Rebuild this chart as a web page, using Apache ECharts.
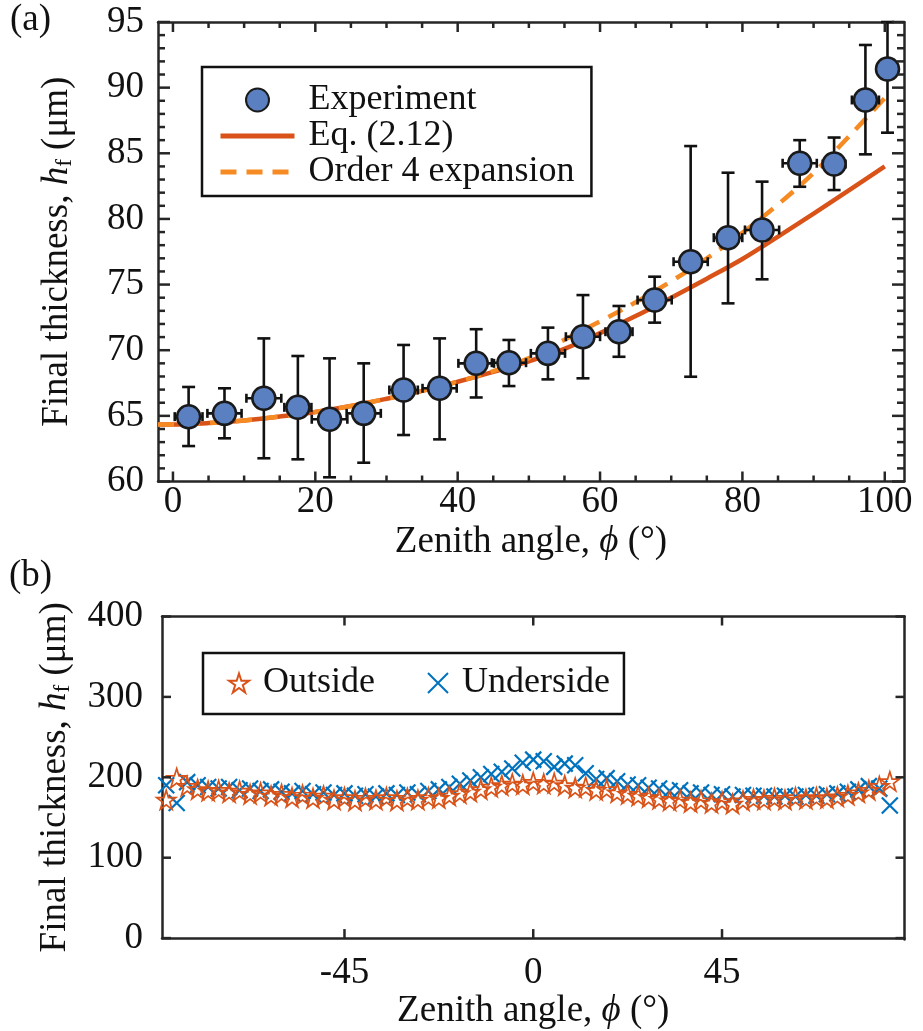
<!DOCTYPE html>
<html>
<head>
<meta charset="utf-8">
<script src="https://cdn.jsdelivr.net/npm/echarts@6/dist/echarts.min.js"></script>
<style>html,body{margin:0;padding:0;background:#fff}#c{width:923px;height:1031px}</style>
</head>
<body>
<div id="c"></div>
<script>
// ---------- Panel (a) data ----------
const expX    = [2.2, 7.24, 12.77, 17.55, 22.0, 26.8, 32.4, 37.46, 42.6, 47.2, 52.68, 57.6, 62.66, 67.67, 72.73, 77.98, 82.76, 88.05, 92.88, 97.28, 100.38];
const expY    = [64.94, 65.19, 66.34, 65.65, 64.74, 65.19, 66.97, 67.1, 69.0, 69.05, 69.76, 71.03, 71.41, 73.82, 76.74, 78.57, 79.16, 84.24, 84.18, 89.06, 91.42];
const expYlo  = [62.7, 63.29, 61.77, 61.69, 60.32, 61.43, 63.54, 63.21, 66.4, 67.27, 67.78, 67.86, 69.5, 72.1, 67.98, 73.57, 75.4, 82.45, 82.2, 84.92, 86.57];
const expYhi  = [67.2, 67.1, 70.9, 69.56, 69.38, 69.0, 70.4, 70.9, 71.6, 70.78, 71.72, 74.2, 73.37, 75.6, 85.55, 83.52, 82.84, 86.0, 86.2, 93.25, 95.0];
const expXerr = [1.95, 2.4, 2.45, 1.9, 2.5, 2.4, 2.0, 2.4, 2.5, 2.4, 2.4, 2.4, 1.9, 2.4, 2.4, 2.0, 2.4, 2.4, 1.6, 1.9, 0];

const curveX = [-2.1, 0, 5, 10, 15, 20, 25, 30, 35, 40, 45, 50, 55, 60, 65, 70, 75, 80, 85, 90, 95, 100];
const eqY    = [64.35, 64.35, 64.45, 64.65, 64.95, 65.3, 65.75, 66.3, 66.9, 67.6, 68.35, 69.15, 70.1, 71.3, 72.6, 74.0, 75.45, 76.95, 78.65, 80.4, 82.2, 84.0];
const ordY   = [64.35, 64.35, 64.45, 64.65, 64.95, 65.3, 65.75, 66.3, 66.9, 67.6, 68.4, 69.4, 70.8, 72.2, 73.65, 75.25, 77.0, 78.95, 81.1, 83.5, 86.3, 89.2];

const xTicksA = [0, 20, 40, 60, 80, 100];
const xMinorA = [5, 10, 15, 25, 30, 35, 45, 50, 55, 65, 70, 75, 85, 90, 95];
const yTicksA = [60, 65, 70, 75, 80, 85, 90, 95];
const yMinorA = [61, 62, 63, 64, 66, 67, 68, 69, 71, 72, 73, 74, 76, 77, 78, 79, 81, 82, 83, 84, 86, 87, 88, 89, 91, 92, 93, 94];

// ---------- Panel (b) data ----------
const phiB = [-87.5, -85, -82.5, -80, -77.5, -75, -72.5, -70, -67.5, -65, -62.5, -60, -57.5, -55, -52.5, -50, -47.5, -45, -42.5, -40, -37.5, -35, -32.5, -30, -27.5, -25, -22.5, -20, -17.5, -15, -12.5, -10, -7.5, -5, -2.5, 0, 2.5, 5, 7.5, 10, 12.5, 15, 17.5, 20, 22.5, 25, 27.5, 30, 32.5, 35, 37.5, 40, 42.5, 45, 47.5, 50, 52.5, 55, 57.5, 60, 62.5, 65, 67.5, 70, 72.5, 75, 77.5, 80, 82.5, 85];
const outsideB = [172, 199, 189, 185, 183, 184, 181, 183, 179, 181, 177, 179, 175, 178, 174, 177, 172, 175, 171, 174, 172, 175, 171, 174, 172, 175, 174, 177, 180, 182, 185, 188, 190, 192, 191, 194, 192, 193, 190, 187, 188, 184, 185, 181, 179, 177, 175, 173, 171, 172, 169, 171, 168, 170, 167, 171, 173, 172, 174, 172, 175, 173, 175, 174, 176, 178, 181, 184, 189, 195];
const undersideB = [190, 168, 194, 190, 188, 186, 188, 184, 186, 183, 185, 182, 180, 183, 179, 181, 178, 180, 177, 179, 176, 180, 178, 181, 179, 183, 185, 188, 192, 196, 200, 204, 207, 211, 218, 222, 220, 213, 217, 215, 205, 198, 199, 195, 191, 190, 187, 186, 183, 184, 180, 181, 178, 179, 176, 178, 177, 177, 176, 177, 176, 178, 177, 179, 180, 182, 185, 189, 186, 165];
const xTicksB = [-45, 0, 45];
const yTicksB = [0, 100, 200, 300, 400];

// ---------- styles ----------
const FONT = 'Liberation Serif';
const AX = '#262626';
const FS = 37;
const rich = {
  a: {fontSize: FS, fontFamily: FONT, color: '#111'},
  i: {fontSize: FS, fontFamily: FONT, fontStyle: 'italic', color: '#111'},
  s: {fontSize: 23, fontFamily: FONT, color: '#111', verticalAlign: 'bottom', lineHeight: 30}
};
const axLine = () => ({show: true, onZero: false, lineStyle: {color: AX, width: 2.5}});
const noTick = () => ({show: false});
const lbl = (extra) => Object.assign({fontSize: FS, fontFamily: FONT, color: '#111'}, extra);

const chart = echarts.init(document.getElementById('c'));

const xRangeA = {min: -2.1, max: 102.7};
const yRangeA = {min: 60, max: 95};
const xRangeB = {min: -88.5, max: 88.5};
const yRangeB = {min: 0, max: 400};
const gA = {left: 158, top: 22, width: 746, height: 459.5};
const gB = {left: 162, top: 616.5, width: 742.5, height: 323};

const panelLabels = [
  {type: 'text', id: 'lblA', left: 10, top: 2, z: 50, style: {text: '(a)', fontSize: 37, fontFamily: FONT, fill: '#111'}},
  {type: 'text', id: 'lblB', left: 9, top: 558, z: 50, style: {text: '(b)', fontSize: 37, fontFamily: FONT, fill: '#111'}}
];

const option = {
  animation: false,
  backgroundColor: '#fff',
  grid: [Object.assign({}, gA), Object.assign({}, gA), Object.assign({}, gB), Object.assign({}, gB)],
  xAxis: [
    Object.assign({type: 'value', gridIndex: 0, position: 'bottom',
      axisLine: axLine(), axisTick: noTick(),
      axisLabel: lbl({margin: 2, customValues: xTicksA}),
      splitLine: {show: false},
      name: '{a|Zenith angle, }{i|ϕ}{a| (°)}', nameLocation: 'middle', nameGap: 42,
      nameTextStyle: {rich: rich}}, xRangeA),
    Object.assign({type: 'value', gridIndex: 1, position: 'top', axisLine: axLine(),
      axisTick: noTick(), axisLabel: {show: false}, splitLine: {show: false}}, xRangeA),
    Object.assign({type: 'value', gridIndex: 2, position: 'bottom',
      axisLine: axLine(), axisTick: noTick(),
      axisLabel: lbl({margin: 17, customValues: xTicksB}),
      splitLine: {show: false},
      name: '{a|Zenith angle, }{i|ϕ}{a| (°)}', nameLocation: 'middle', nameGap: 50,
      nameTextStyle: {rich: rich}}, xRangeB),
    Object.assign({type: 'value', gridIndex: 3, position: 'top', axisLine: axLine(),
      axisTick: noTick(), axisLabel: {show: false}, splitLine: {show: false}}, xRangeB)
  ],
  yAxis: [
    Object.assign({type: 'value', gridIndex: 0, position: 'left', interval: 5,
      axisLine: axLine(), axisTick: noTick(),
      axisLabel: lbl({margin: 14}),
      splitLine: {show: false},
      name: '{a|Final thickness, }{i|h}{s|f}{a| (μm)}', nameLocation: 'middle', nameGap: 82,
      nameTextStyle: {rich: rich}}, yRangeA),
    Object.assign({type: 'value', gridIndex: 1, position: 'right', interval: 5,
      axisLine: axLine(), axisTick: noTick(),
      axisLabel: {show: false}, splitLine: {show: false}}, yRangeA),
    Object.assign({type: 'value', gridIndex: 2, position: 'left', interval: 100,
      axisLine: axLine(), axisTick: noTick(),
      axisLabel: lbl({margin: 19}),
      splitLine: {show: false},
      name: '{a|Final thickness, }{i|h}{s|f}{a| (μm)}', nameLocation: 'middle', nameGap: 88,
      nameTextStyle: {rich: rich}}, yRangeB),
    Object.assign({type: 'value', gridIndex: 3, position: 'right', interval: 100,
      axisLine: axLine(), axisTick: noTick(),
      axisLabel: {show: false}, splitLine: {show: false}}, yRangeB)
  ],
  legend: [
    {orient: 'vertical', left: 202, top: 67, padding: [15, 17, 6, 16],
      itemWidth: 74, itemHeight: 23, itemGap: 0, selectedMode: false,
      borderColor: '#111', borderWidth: 2.5, backgroundColor: '#fff', z: 8,
      lineStyle: {width: 5},
      textStyle: {fontSize: 36, fontFamily: FONT, color: '#111', lineHeight: 36, padding: [0, 0, 0, 9]},
      data: [
        {name: 'Experiment'},
        {name: 'Eq. (2.12)', itemStyle: {opacity: 0}},
        {name: 'Order 4 expansion', itemStyle: {opacity: 0}}
      ]},
    {orient: 'horizontal', left: 203, top: 653, padding: [12, 14, 13, 25],
      itemWidth: 20, itemHeight: 20, itemGap: 52, selectedMode: false,
      borderColor: '#111', borderWidth: 2.5, backgroundColor: '#fff', z: 8,
      textStyle: {fontSize: 36, fontFamily: FONT, color: '#111', lineHeight: 36, padding: [0, 0, 0, 9]},
      data: ['Outside', 'Underside']}
  ],
  graphic: {elements: panelLabels},
  series: [
    {type: 'line', name: 'Eq. (2.12)', xAxisIndex: 0, yAxisIndex: 0, symbol: 'none', smooth: 0.35,
      data: curveX.map((x, i) => [x, eqY[i]]),
      lineStyle: {color: '#D95319', width: 4.5}, itemStyle: {color: '#D95319'}, z: 2},
    {type: 'line', name: 'Order 4 expansion', xAxisIndex: 0, yAxisIndex: 0, symbol: 'none', smooth: 0.35,
      data: curveX.map((x, i) => [x, ordY[i]]),
      lineStyle: {color: '#F68B24', width: 4.5, type: [16, 10]}, itemStyle: {color: '#F68B24'}, z: 3},
    {type: 'custom', name: 'err', xAxisIndex: 0, yAxisIndex: 0, z: 4,
      data: expX.map((x, i) => [x, expY[i], expYlo[i], expYhi[i], expXerr[i]]),
      encode: {x: [0], y: [1, 2, 3]},
      renderItem: function (params, api) {
        const x = api.value(0), y = api.value(1), lo = api.value(2), hi = api.value(3), xe = api.value(4);
        const pt = api.coord([x, hi]), pb = api.coord([x, lo]);
        const pl = api.coord([x - xe, y]), pr = api.coord([x + xe, y]);
        const st = {stroke: '#111', lineWidth: 2.6};
        const cw = 6.5, ch = 4.5;
        const parts = [
          {type: 'line', shape: {x1: pt[0], y1: pt[1], x2: pb[0], y2: pb[1]}, style: st},
          {type: 'line', shape: {x1: pt[0] - cw, y1: pt[1], x2: pt[0] + cw, y2: pt[1]}, style: st},
          {type: 'line', shape: {x1: pb[0] - cw, y1: pb[1], x2: pb[0] + cw, y2: pb[1]}, style: st}
        ];
        if (xe > 0) {
          parts.push({type: 'line', shape: {x1: pl[0], y1: pl[1], x2: pr[0], y2: pr[1]}, style: st});
          parts.push({type: 'line', shape: {x1: pl[0], y1: pl[1] - ch, x2: pl[0], y2: pl[1] + ch}, style: st});
          parts.push({type: 'line', shape: {x1: pr[0], y1: pr[1] - ch, x2: pr[0], y2: pr[1] + ch}, style: st});
        }
        return {type: 'group', children: parts};
      }},
    {type: 'scatter', name: 'Experiment', xAxisIndex: 0, yAxisIndex: 0, z: 5,
      symbol: 'circle', symbolSize: 23,
      data: expX.map((x, i) => [x, expY[i]]),
      itemStyle: {color: '#5B80C1', borderColor: '#1a1a1a', borderWidth: 2.5, opacity: 1}},
    {type: 'scatter', name: 'Underside', xAxisIndex: 2, yAxisIndex: 2, z: 3,
      symbol: 'path://M0,0L10,10M10,0L0,10', symbolSize: 16,
      data: phiB.map((x, i) => [x, undersideB[i]]),
      itemStyle: {color: 'rgba(0,0,0,0)', borderColor: '#0072BD', borderWidth: 2.2, opacity: 1}},
    {type: 'scatter', name: 'Outside', xAxisIndex: 2, yAxisIndex: 2, z: 4,
      symbol: 'path://M50,0L61.2,34.5L97.6,34.5L68.2,55.9L79.4,90.5L50,69.1L20.6,90.5L31.8,55.9L2.4,34.5L38.8,34.5Z', symbolSize: 19,
      data: phiB.map((x, i) => [x, outsideB[i]]),
      itemStyle: {color: 'rgba(0,0,0,0)', borderColor: '#D95319', borderWidth: 1.7, opacity: 1}}
  ]
};
chart.setOption(option);

// ---------- inward tick marks, placed through the chart's own scales ----------
function tickRects(prefix, finder, xr, yr, xMaj, xMajLen, xMin, xMinLen, yMaj, yMajLen, yMin, yMinLen) {
  const out = [];
  const w = 2.5;
  const addX = (v, len, k) => {
    const pb = chart.convertToPixel(finder, [v, yr.min]);
    const pt = chart.convertToPixel(finder, [v, yr.max]);
    out.push({type: 'rect', id: prefix + 'xb' + k, z: 60, silent: true,
      shape: {x: pb[0] - w / 2, y: pb[1] - len, width: w, height: len}, style: {fill: AX}});
    out.push({type: 'rect', id: prefix + 'xt' + k, z: 60, silent: true,
      shape: {x: pt[0] - w / 2, y: pt[1], width: w, height: len}, style: {fill: AX}});
  };
  const addY = (v, len, k) => {
    const pl = chart.convertToPixel(finder, [xr.min, v]);
    const pr = chart.convertToPixel(finder, [xr.max, v]);
    out.push({type: 'rect', id: prefix + 'yl' + k, z: 60, silent: true,
      shape: {x: pl[0], y: pl[1] - w / 2, width: len, height: w}, style: {fill: AX}});
    out.push({type: 'rect', id: prefix + 'yr' + k, z: 60, silent: true,
      shape: {x: pr[0] - len, y: pr[1] - w / 2, width: len, height: w}, style: {fill: AX}});
  };
  xMaj.forEach((v, k) => addX(v, xMajLen, 'M' + k));
  xMin.forEach((v, k) => addX(v, xMinLen, 'm' + k));
  yMaj.forEach((v, k) => addY(v, yMajLen, 'M' + k));
  yMin.forEach((v, k) => addY(v, yMinLen, 'm' + k));
  return out;
}
const ticksA = tickRects('a', {xAxisIndex: 0, yAxisIndex: 0}, xRangeA, yRangeA,
  xTicksA, 10, xMinorA, 6, yTicksA, 12, yMinorA, 7);
const ticksB = tickRects('b', {xAxisIndex: 2, yAxisIndex: 2}, xRangeB, yRangeB,
  xTicksB, 9, [], 0, yTicksB, 9, [], 0);
chart.setOption({graphic: {elements: panelLabels.concat(ticksA, ticksB)}});
</script>
</body>
</html>
